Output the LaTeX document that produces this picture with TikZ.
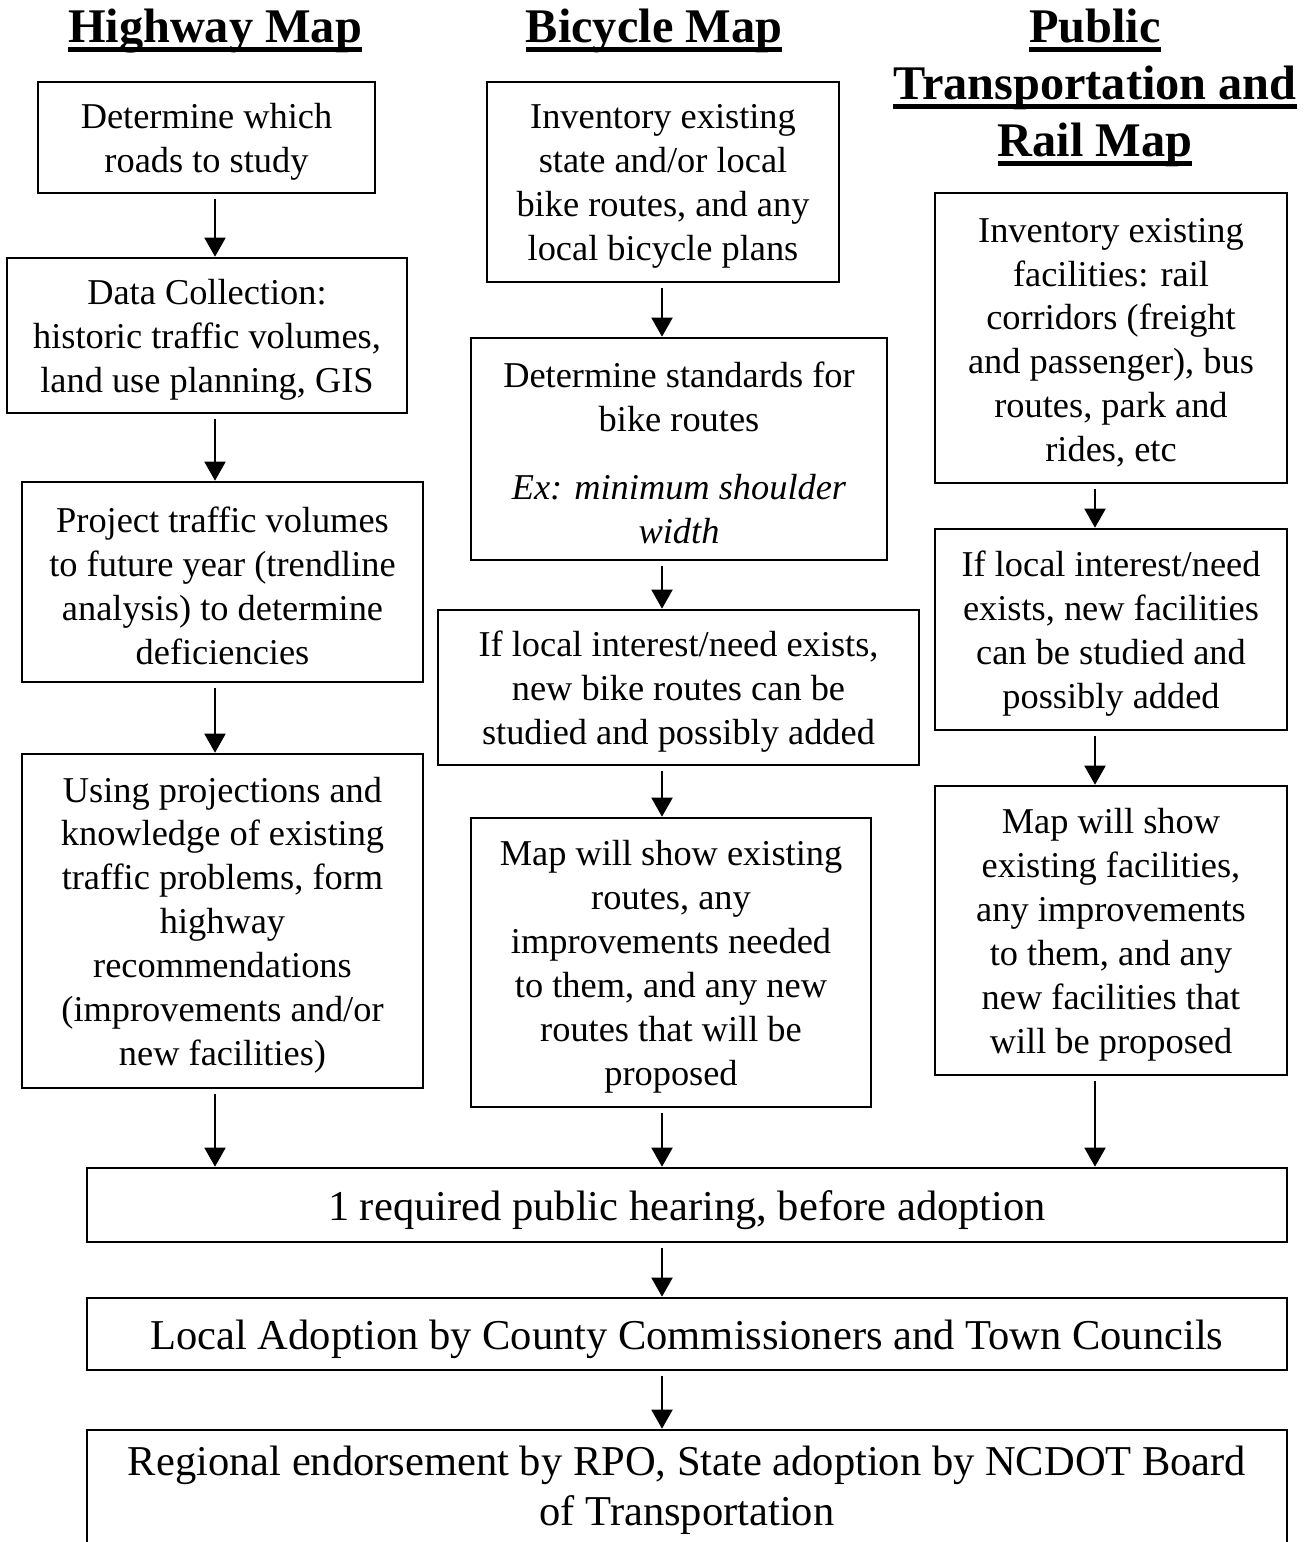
\documentclass[tikz,border=0pt]{standalone}
\usepackage{fontspec}
\setmainfont{Liberation Serif}
\usetikzlibrary{arrows.meta}

\newcommand{\ulhead}[1]{\setbox0\hbox{#1}\rlap{\rule[-0.21em]{\wd0}{0.1em}}\box0}
\newcommand{\tp}{\rule{0pt}{19pt}}

\begin{document}
\begin{tikzpicture}[x = 0.02cm, y = -0.02cm,
                    mapbox/.style = {draw, line width = 1.5pt, align = center, inner sep = 0pt,
                                     font = \fontsize{20.7}{25}\selectfont},
                    adoptbox/.style = {draw, line width = 1.5pt, align = center, inner sep = 0pt,
                                       minimum width = 24cm, font = \fontsize{24.2}{28.5}\selectfont,
                                       execute at begin node = {\rule{0pt}{23pt}}},
                    heading/.style = {anchor = base, inner sep = 0pt,
                                      font = \bfseries\fontsize{27.5}{33}\selectfont},
                    flow/.style = {line width = 1.1pt, shorten <= 0.1cm,
                                   -{Triangle[length = 0.38cm, width = 0.42cm]}}]

\useasboundingbox (0,0) rectangle (1305,1542);

% arrow columns
\coordinate (colH) at (215,0);
\coordinate (colB) at (662,0);
\coordinate (colP) at (1095,0);

% headings
\node [heading] (hwyT) at (215,42) {\ulhead{Highway Map}};
\node [heading] (bikeT) at (654,42) {\ulhead{Bicycle Map}};
\node [heading] (pubT1) at (1095,42) {\ulhead{Public}};
\node [heading] (pubT2) at (1095,99) {\ulhead{Transportation and}};
\node [heading] (pubT3) at (1095,156) {\ulhead{Rail Map}};

% highway map
\node [mapbox, minimum width = 6.74cm, minimum height = 2.22cm] (hwy1) at (206.5,137.5)
  {\tp Determine which\\ roads to study};
\node [mapbox, minimum width = 8cm, minimum height = 3.1cm] (hwy2) at (207,335.5)
  {\tp Data Collection:\\ historic traffic volumes,\\ land use planning, GIS};
\node [mapbox, minimum width = 8.02cm, minimum height = 4cm] (hwy3) at (222.5,582)
  {\tp Project traffic volumes\\ to future year (trendline\\ analysis) to determine\\ deficiencies};
\node [mapbox, minimum width = 8.02cm, minimum height = 6.68cm] (hwy4) at (222.5,921)
  {\tp Using projections and\\ knowledge of existing\\ traffic problems, form\\ highway\\ recommendations\\ (improvements and/or\\ new facilities)};

% bicycle map
\node [mapbox, minimum width = 7.04cm, minimum height = 4cm] (bike1) at (663,182)
  {\tp Inventory existing\\ state and/or local\\ bike routes, and any\\ local bicycle plans};
\node [mapbox, minimum width = 8.32cm, minimum height = 4.44cm] (bike2) at (679,449)
  {\tp Determine standards for\\ bike routes\\[0.48cm] \textit{Ex: minimum shoulder}\\ \textit{width}};
\node [mapbox, minimum width = 9.62cm, minimum height = 3.1cm] (bike3) at (678.5,687.5)
  {\tp If local interest/need exists,\\ new bike routes can be\\ studied and possibly added};
\node [mapbox, minimum width = 8cm, minimum height = 5.78cm] (bike4) at (671,962.5)
  {\tp Map will show existing\\ routes, any\\ improvements needed\\ to them, and any new\\ routes that will be\\ proposed};

% public transportation and rail map
\node [mapbox, minimum width = 7.04cm, minimum height = 5.8cm] (pub1) at (1111,338)
  {\tp Inventory existing\\ facilities: rail\\ corridors (freight\\ and passenger), bus\\ routes, park and\\ rides, etc};
\node [mapbox, minimum width = 7.04cm, minimum height = 4.02cm] (pub2) at (1111,629.5)
  {\tp If local interest/need\\ exists, new facilities\\ can be studied and\\ possibly added};
\node [mapbox, minimum width = 7.04cm, minimum height = 5.78cm] (pub3) at (1111,930.5)
  {\tp Map will show\\ existing facilities,\\ any improvements\\ to them, and any\\ new facilities that\\ will be proposed};

% adoption
\node [adoptbox, minimum height = 1.48cm] (hear) at (687,1205)
  {1 required public hearing, before adoption};
\node [adoptbox, minimum height = 1.44cm] (local) at (687,1334)
  {Local Adoption by County Commissioners and Town Councils};
\node [adoptbox, minimum height = 2.4cm] (state) at (687,1490)
  {Regional endorsement by RPO, State adoption by NCDOT Board\\ of Transportation};

% arrows
\draw [flow] (hwy1.south -| colH) -- (hwy2.north -| colH);
\draw [flow] (hwy2.south -| colH) -- (hwy3.north -| colH);
\draw [flow] (hwy3.south -| colH) -- (hwy4.north -| colH);
\draw [flow] (hwy4.south -| colH) -- (hear.north -| colH);

\draw [flow] (bike1.south -| colB) -- (bike2.north -| colB);
\draw [flow] (bike2.south -| colB) -- (bike3.north -| colB);
\draw [flow] (bike3.south -| colB) -- (bike4.north -| colB);
\draw [flow] (bike4.south -| colB) -- (hear.north -| colB);

\draw [flow] (pub1.south -| colP) -- (pub2.north -| colP);
\draw [flow] (pub2.south -| colP) -- (pub3.north -| colP);
\draw [flow] (pub3.south -| colP) -- (hear.north -| colP);

\draw [flow] (hear.south -| colB) -- (local.north -| colB);
\draw [flow] (local.south -| colB) -- (state.north -| colB);
\end{tikzpicture}
\end{document}
